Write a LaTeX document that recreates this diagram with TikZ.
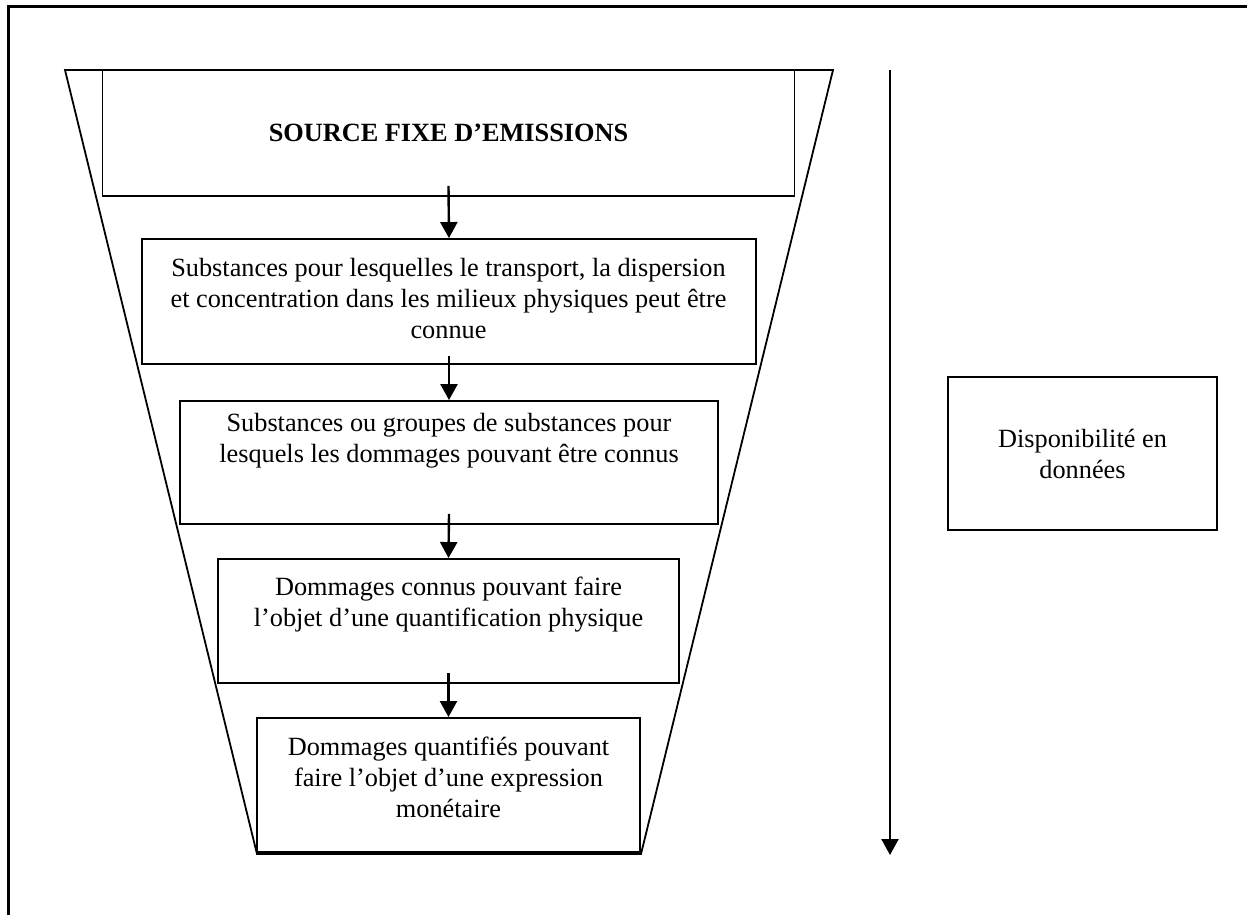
\documentclass[tikz,border=0pt]{standalone}
\usepackage{fontspec}
\setmainfont{Liberation Serif}
\usetikzlibrary{arrows.meta}
\begin{document}
\begin{tikzpicture}[x=1pt,y=-1pt,
  box/.style={draw,line width=1.9pt,inner sep=0pt,rectangle},
  txt/.style={align=center,font=\fontsize{26.3}{31}\selectfont,inner sep=0pt},
  arr/.style={line width=2.4pt,-{Triangle[length=16pt,width=17pt]}}]
\useasboundingbox (0,0) rectangle (1247,915);
% outer frame (only left and top edges visible)
\draw[line width=3pt] (8,916) -- (8,7) -- (1248,7);
% funnel
\draw[line width=1.8pt] (65,70) -- (833,70) -- (641,854) -- (257,854) -- cycle;
% boxes
\node[box,txt,minimum width=692pt,minimum height=126pt] (b1) at (448.5,133) {\bfseries SOURCE FIXE D’EMISSIONS};
\node[box,minimum width=614pt,minimum height=125pt] (b2) at (449,301.5) {};
\node[box,minimum width=538pt,minimum height=123pt] (b3) at (449,462.5) {};
\node[box,minimum width=461pt,minimum height=124pt] (b4) at (448.5,621) {};
\node[box,minimum width=383pt,minimum height=134pt] (b5) at (448.5,785) {};
\node[box,txt,minimum width=269pt,minimum height=153pt] (disp) at (1082.5,453.5) {Disponibilité en\\données};
% texts
\node[txt] (t2) at (448.5,299) {Substances pour lesquelles le transport, la dispersion\\et concentration dans les milieux physiques peut être\\connue};
\node[txt] (t3) at (449,441) {Substances ou groupes de substances pour\\lesquels les dommages pouvant être connus};
\node[txt] (t4) at (448.5,605) {Dommages connus pouvant faire\\l’objet d’une quantification physique};
\node[txt] (t5) at (448.5,777.5) {Dommages quantifiés pouvant\\faire l’objet d’une expression\\monétaire};
% arrows
\draw[arr] ([yshift=11pt]b1.south) -- (b2.north);
\draw[arr] ([yshift=9pt]b2.south) -- (b3.north);
\draw[arr] ([yshift=11pt]b3.south) -- (b4.north);
\draw[arr] ([yshift=11pt]b4.south) -- (b5.north);
% data availability arrow
\coordinate (dtop) at (890,70);
\coordinate (dbot) at (890,855);
\draw[arr] (dtop) -- (dbot);
\end{tikzpicture}
\end{document}
